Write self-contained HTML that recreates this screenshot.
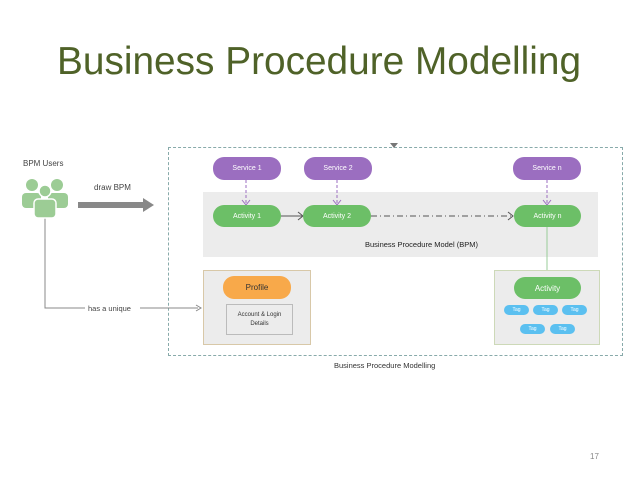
<!DOCTYPE html>
<html><head><meta charset="utf-8"><style>
body{margin:0;width:638px;height:479px;background:#fff;position:relative;overflow:hidden;font-family:"Liberation Sans",sans-serif}
.a{position:absolute}
.pill{position:absolute;border-radius:11px;color:#fff;font-size:7px;display:flex;align-items:center;justify-content:center}
.s{background:#9b6ec0}.g{background:#6cbf67}
.tag{position:absolute;background:#5bc0f0;color:#fff;font-size:5px;border-radius:5px;width:25px;height:10px;display:flex;align-items:center;justify-content:center}
</style></head><body>
<div class="a" style="left:57px;top:40px;font-size:38.8px;color:#4f6228;white-space:nowrap">Business Procedure Modelling</div>
<div class="a" style="left:168px;top:147px;width:453px;height:207px;border:1px dashed #8aa"></div>
<div class="a" style="left:390px;top:143px;width:0;height:0;border-left:4px solid transparent;border-right:4px solid transparent;border-top:5px solid #777"></div>
<div class="a" style="left:203px;top:192px;width:395px;height:65px;background:#ececec"></div>
<div class="a" style="left:203px;top:270px;width:106px;height:73px;background:#ececec;border:1px solid #d8c8a8"></div>
<div class="a" style="left:494px;top:270px;width:104px;height:73px;background:#ececec;border:1px solid #cdd9b8"></div>
<svg class="a" style="left:0;top:0" width="638" height="479">
<g stroke="#9b6ec0" stroke-dasharray="3,2" fill="none"><line x1="246" y1="180" x2="246" y2="204"/><line x1="337" y1="180" x2="337" y2="204"/><line x1="547" y1="180" x2="547" y2="204"/></g>
<g stroke="#9b6ec0" fill="none"><path d="M242 200 L246 205 L250 200"/><path d="M333 200 L337 205 L341 200"/><path d="M543 200 L547 205 L551 200"/></g>
<line x1="281" y1="216" x2="302" y2="216" stroke="#555"/><path d="M298 212 L303 216 L298 220" stroke="#555" fill="none"/>
<line x1="371" y1="216" x2="512" y2="216" stroke="#555" stroke-dasharray="6,3,1,3"/><path d="M508 212 L513 216 L508 220" stroke="#555" fill="none"/>
<line x1="547" y1="227" x2="547" y2="270" stroke="#9c9"/>
<rect x="78" y="202" width="65" height="6" fill="#888"/><path d="M143 198 L154 205 L143 212Z" fill="#888"/>
<path d="M45 218 V308 H85 M140 308 H198" stroke="#888" fill="none"/><path d="M196 305 L201 308 L196 311" stroke="#888" fill="none"/>
<g fill="#9ccc95"><circle cx="32" cy="185" r="6"/><circle cx="57" cy="185" r="6"/><rect x="22" y="193" width="19" height="15" rx="4"/><rect x="48" y="193" width="20" height="15" rx="4"/>
<circle cx="45" cy="191" r="6" stroke="#fff" stroke-width="1.5"/><rect x="34" y="199" width="22" height="19" rx="4" stroke="#fff" stroke-width="1.5"/></g>
</svg>
<div class="a" style="left:23px;top:159px;font-size:8px;color:#444">BPM Users</div>
<div class="a" style="left:94px;top:183px;font-size:8px;color:#444">draw BPM</div>
<div class="a" style="left:88px;top:304px;font-size:7.5px;color:#444">has a unique</div>
<div class="pill s" style="left:213px;top:157px;width:68px;height:23px">Service 1</div>
<div class="pill s" style="left:304px;top:157px;width:68px;height:23px">Service 2</div>
<div class="pill s" style="left:513px;top:157px;width:68px;height:23px">Service n</div>
<div class="pill g" style="left:213px;top:205px;width:68px;height:22px">Activity 1</div>
<div class="pill g" style="left:303px;top:205px;width:68px;height:22px">Activity 2</div>
<div class="pill g" style="left:514px;top:205px;width:67px;height:22px">Activity n</div>
<div class="a" style="left:365px;top:240px;font-size:7.5px;color:#222">Business Procedure Model (BPM)</div>
<div class="pill" style="left:223px;top:276px;width:68px;height:23px;background:#f8a94a;color:#333;font-size:8px">Profile</div>
<div class="a" style="left:226px;top:304px;width:67px;height:31px;border:1px solid #bbb;background:#ececec;font-size:6px;color:#333;text-align:center;line-height:9px;box-sizing:border-box;padding-top:6px">Account &amp; Login<br>Details</div>
<div class="pill g" style="left:514px;top:277px;width:67px;height:22px;font-size:8px">Activity</div>
<div class="tag" style="left:504px;top:305px">Tag</div><div class="tag" style="left:533px;top:305px">Tag</div><div class="tag" style="left:562px;top:305px">Tag</div>
<div class="tag" style="left:520px;top:324px">Tag</div><div class="tag" style="left:550px;top:324px">Tag</div>
<div class="a" style="left:334px;top:361px;font-size:7.5px;color:#333">Business Procedure Modelling</div>
<div class="a" style="left:590px;top:452px;font-size:8px;color:#888">17</div>
</body></html>
